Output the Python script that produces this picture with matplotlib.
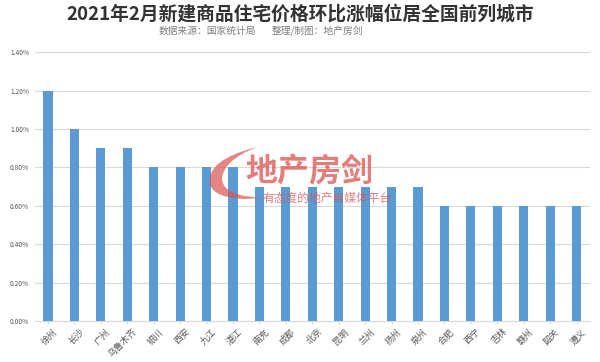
import matplotlib
matplotlib.use("Agg")
import matplotlib.pyplot as plt
import matplotlib.transforms as mtransforms
from matplotlib.ticker import FuncFormatter, MultipleLocator
from matplotlib.patches import PathPatch
from matplotlib.path import Path

plt.rcParams['font.family'] = ['Noto Sans CJK SC', 'DejaVu Sans']

cities = ["徐州", "长沙", "广州", "乌鲁木齐", "银川", "西安", "九江", "湛江", "南充", "成都",
          "北京", "昆明", "兰州", "扬州", "泉州", "合肥", "西宁", "吉林", "赣州", "韶关", "遵义"]
values = [1.2, 1.0, 0.9, 0.9, 0.8, 0.8, 0.8, 0.8, 0.7, 0.7,
          0.7, 0.7, 0.7, 0.7, 0.7, 0.6, 0.6, 0.6, 0.6, 0.6, 0.6]

fig = plt.figure(figsize=(6.0, 3.62), dpi=100)
ax = fig.add_axes([0.058, 0.113, 0.925, 0.743])

ax.bar(range(len(cities)), values, width=0.35, color="#5B9BD5", zorder=3)
ax.set_xlim(-0.5, len(cities) - 0.5)
ax.set_ylim(0, 1.4)
ax.yaxis.set_major_locator(MultipleLocator(0.2))
ax.yaxis.set_major_formatter(FuncFormatter(lambda v, p: f"{v:.2f}%"))
ax.grid(axis="y", color="#D9D9D9", linewidth=0.8, zorder=0)
for s in ["top", "right", "left"]:
    ax.spines[s].set_visible(False)
ax.spines["bottom"].set_color("#D9D9D9")
ax.tick_params(axis="y", length=0, labelsize=4.8, labelcolor="#595959", pad=4)
ax.set_xticks(range(len(cities)))
ax.set_xticklabels([])
ax.tick_params(axis="x", length=2, color="#D9D9D9")

trans = mtransforms.blended_transform_factory(ax.transData, ax.transAxes)
off = mtransforms.ScaledTranslation(5 / 100, -6 / 100, fig.dpi_scale_trans)
for i, name in enumerate(cities):
    ax.text(i, 0, name, transform=trans + off, rotation=45, rotation_mode="anchor",
            ha="right", va="top", fontsize=6.5, color="#595959", clip_on=False)

fig.text(0.5, 0.962, "2021年2月新建商品住宅价格环比涨幅位居全国前列城市", ha="center", va="center",
         fontsize=13.5, fontweight="bold", color="#333333")
fig.text(0.345, 0.915, "数据来源：国家统计局", ha="center", va="center", fontsize=7, color="#7F7F7F")
fig.text(0.453, 0.915, "整理/制图：地产房剑", ha="left", va="center", fontsize=7, color="#7F7F7F")

# watermark
fig.text(0.515, 0.525, "地产房剑", ha="center", va="center", fontsize=23, fontweight="bold",
         color="#D9534F", alpha=0.75, zorder=10)
fig.text(0.545, 0.452, "有态度的地产自媒体平台", ha="center", va="center", fontsize=8.5,
         color="#D9534F", alpha=0.75, zorder=10)
# swoosh
W, H = 600, 362
pts = [(257, 147), (205, 160), (210, 185), (215, 198), (245, 199), (262, 198), (245, 196),
       (222, 192), (222, 178), (224, 160), (257, 147), (257, 147)]
codes = [Path.MOVETO, Path.CURVE3, Path.CURVE3, Path.CURVE3, Path.CURVE3, Path.LINETO, Path.LINETO,
         Path.CURVE3, Path.CURVE3, Path.CURVE3, Path.CURVE3, Path.CLOSEPOLY]
verts = [(x / W, 1 - y / H) for x, y in pts]
fig.patches.append(PathPatch(Path(verts, codes), transform=fig.transFigure, facecolor="#D9534F",
                             edgecolor="none", alpha=0.7, zorder=10))

fig.savefig("out.png", dpi=100)
